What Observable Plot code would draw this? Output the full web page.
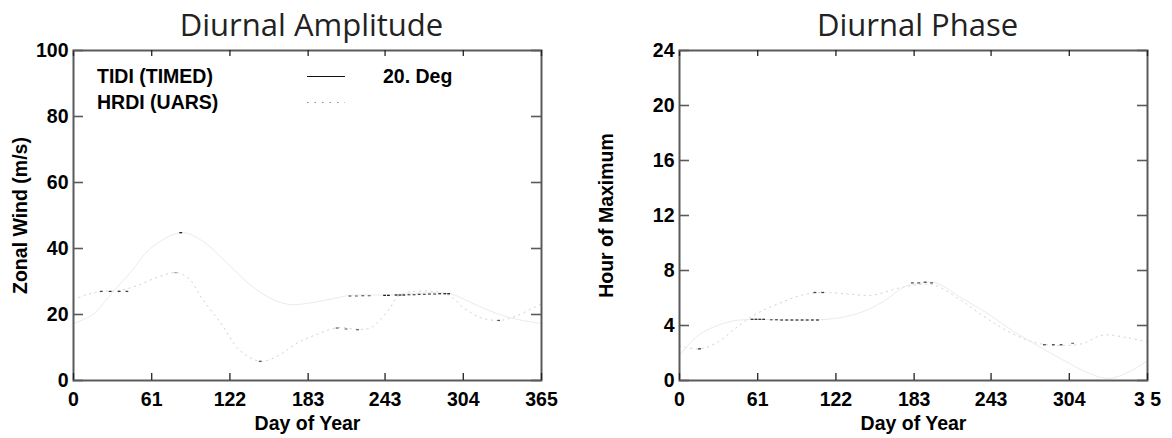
<!DOCTYPE html>
<html>
<head>
<meta charset="utf-8">
<script src="https://cdn.jsdelivr.net/npm/d3@7"></script>
<script src="https://cdn.jsdelivr.net/npm/@observablehq/plot@0.6"></script>
<style>
  html, body { margin: 0; padding: 0; background: #fff; }
  #wrap { position: relative; width: 1172px; height: 438px; overflow: hidden; }
  .panel { position: absolute; top: 0; width: 586px; height: 438px; }
  #legend { position: absolute; left: 0; top: 0; width: 586px; height: 438px; pointer-events: none; }
</style>
</head>
<body>
<div id="wrap">
  <div class="panel" id="left" style="left:0"></div>
  <div class="panel" id="right" style="left:586px"></div>
  <svg id="legend" width="586" height="438">
    <line x1="307" x2="345" y1="76.5" y2="76.5" stroke="#111" stroke-width="1"/>
    <line x1="307" x2="345" y1="102.5" y2="102.5" stroke="#888" stroke-width="1.2" stroke-dasharray="1.5 6"/>
  </svg>
</div>
<script>
// ---------- shared ----------
const dayTicks = [0, 61, 122, 183, 243, 304, 365];
const dayTickLabelsLeft = ["0", "61", "122", "183", "243", "304", "365"];
const dayTickLabelsRight = ["0", "61", "122", "183", "243", "304", "3 5"];
const ampTicks = [0, 20, 40, 60, 80, 100];
const phaseTicks = [0, 4, 8, 12, 16, 20, 24];

// ---------- amplitude: fitted curves ----------
const ampTidiDays = [0, 15, 31, 45, 60, 84, 100, 120, 140, 156, 170, 200, 216, 243, 293, 310, 330, 350, 365];
const ampTidiVals = [17.3, 20, 27, 33, 40, 44.8, 42.4, 35.5, 28.3, 24.5, 23, 24.6, 25.8, 25.9, 26.3, 23.6, 20.3, 18.2, 17.3];
const ampHrdiDays = [0, 10, 22, 36, 50, 65, 80, 90, 100, 115, 130, 146, 160, 175, 190, 206, 222, 232, 245, 255, 290, 305, 318, 332, 345, 365];
const ampHrdiVals = [24.5, 26, 27, 27.3, 28.8, 31.2, 32.7, 30.9, 25, 17.3, 9, 5.8, 7.6, 11.5, 14, 16, 15.5, 16, 21, 26, 26.3, 21.8, 19, 18.2, 19.5, 23.3];

// ---------- amplitude: measured points (short dashes) ----------
const ampPtDays = [22, 29, 36, 42, 80, 84, 146, 206, 213, 222, 216, 221, 226, 231, 332,
                   243, 246, 252, 255, 258, 262, 266, 270, 274, 278, 282, 286, 290, 293];
const ampPtVals = [27, 27, 27, 27, 32.7, 44.8, 5.8, 15.9, 15.6, 15.4, 25.6, 25.6, 25.7, 25.7, 18.2,
                   25.8, 25.8, 25.9, 25.9, 25.9, 26, 26, 26.1, 26.1, 26.2, 26.2, 26.3, 26.3, 26.3];
const ampPtShade = ["#444", "#333", "#333", "#444", "#aaa", "#222", "#555", "#666", "#777", "#666", "#666", "#777", "#666", "#777", "#555",
                    "#222", "#222", "#222", "#222", "#222", "#555", "#555", "#444", "#555", "#444", "#555", "#333", "#222", "#222"];

// ---------- phase: fitted curves ----------
const phTidiDays = [0, 10, 20, 40, 60, 80, 100, 120, 140, 160, 175, 190, 200, 220, 240, 260, 280, 300, 320, 335, 350, 365];
const phTidiVals = [1.8, 2.9, 3.6, 4.3, 4.45, 4.4, 4.4, 4.5, 4.9, 5.8, 6.8, 7.1, 7.1, 6, 4.9, 3.6, 2.5, 1.45, 0.5, 0.15, 0.6, 1.45];
const phHrdiDays = [0, 16, 30, 45, 61, 80, 95, 110, 130, 150, 170, 190, 200, 220, 240, 260, 280, 300, 315, 330, 350, 365];
const phHrdiVals = [2.5, 2.3, 2.8, 3.9, 4.9, 5.7, 6.2, 6.4, 6.3, 6.2, 6.7, 7.0, 6.9, 5.8, 4.5, 3.4, 2.7, 2.55, 2.7, 3.3, 3.1, 2.8];

// ---------- phase: measured points ----------
const phPtDays = [16, 57, 60, 63, 66, 72, 76, 80, 84, 88, 92, 96, 100, 104, 108, 106, 112, 182, 187, 192, 197, 285, 292, 298, 307];
const phPtVals = [2.3, 4.45, 4.45, 4.45, 4.45, 4.42, 4.42, 4.4, 4.4, 4.4, 4.4, 4.4, 4.4, 4.4, 4.4, 6.4, 6.4, 7.1, 7.1, 7.15, 7.1, 2.6, 2.6, 2.6, 2.7];
const phPtShade = ["#333", "#333", "#333", "#333", "#333", "#666", "#555", "#444", "#333", "#333", "#333", "#333", "#333", "#333", "#333", "#444", "#444", "#555", "#555", "#444", "#555", "#444", "#444", "#444", "#777"];

const toRows = (xs, ys, cs) => xs.map((x, i) => ({day: x, v: ys[i], c: cs ? cs[i] : null}));

const W = 586, H = 438, mT = 50, mB = 58;
const font = {fontFamily: "'Liberation Sans', Arial, Helvetica, sans-serif", fontSize: "19.5px", fontWeight: "bold", color: "#000", background: "#fff", overflow: "visible"};

function panel({mL, mR, yDomain, yTicks, xLabels, tidi, hrdi, pts, title, ylab}) {
  const innerW = W - mL - mR, innerH = H - mT - mB;
  const frameCol = "#5a5a5a";
  return Plot.plot({
    width: W, height: H,
    marginLeft: mL, marginRight: mR, marginTop: mT, marginBottom: mB,
    style: font,
    x: {domain: [0, 365]},
    y: {domain: yDomain},
    marks: [
      // fitted curves
      Plot.line(hrdi, {x: "day", y: "v", curve: "catmull-rom", stroke: "#cfcfcf", strokeWidth: 1, strokeDasharray: "1.2 4.5"}),
      Plot.line(tidi, {x: "day", y: "v", curve: "catmull-rom", stroke: "#ebebeb", strokeWidth: 1}),
      // measured points as short dashes
      Plot.ruleY(pts, {y: "v", x1: d => d.day - 1.1, x2: d => d.day + 1.1, stroke: "c", strokeWidth: 1.3}),
      // frame
      Plot.frame({stroke: frameCol, strokeWidth: 2}),
      // inward ticks
      Plot.tickX(dayTicks, {x: d => d, insetTop: innerH - 7, stroke: "#222", strokeWidth: 1.3}),
      Plot.tickX(dayTicks, {x: d => d, insetBottom: innerH - 6, stroke: "#222", strokeWidth: 1.3}),
      Plot.tickY(yTicks, {y: d => d, insetRight: innerW - 10, stroke: frameCol, strokeWidth: 1.6}),
      Plot.tickY(yTicks, {y: d => d, insetLeft: innerW - 10, stroke: frameCol, strokeWidth: 1.6}),
      // tick labels
      Plot.axisX({ticks: dayTicks, tickSize: 0, tickPadding: 12, tickFormat: (d) => xLabels[dayTicks.indexOf(d)], label: null}),
      Plot.axisY({ticks: yTicks, tickSize: 0, tickPadding: 5, label: null}),
      // axis titles
      Plot.text(["Day of Year"], {frameAnchor: "bottom", dy: 49, lineAnchor: "bottom", fontSize: 19.5, fontWeight: "bold"}),
      Plot.text([ylab], {frameAnchor: "left", dx: -(mL - 26), rotate: -90, textAnchor: "middle", lineAnchor: "bottom", fontSize: 19.5, fontWeight: "bold"}),
      // panel title
      Plot.text([title], {frameAnchor: "top", dy: -15, dx: 4, lineAnchor: "bottom", fontSize: 31, fontWeight: 500, fontFamily: "'Open Sans', 'DejaVu Sans', sans-serif", fill: "#222"})
    ]
  });
}

const left = panel({
  mL: 73, mR: 45, yDomain: [0, 100], yTicks: ampTicks, xLabels: dayTickLabelsLeft,
  tidi: toRows(ampTidiDays, ampTidiVals), hrdi: toRows(ampHrdiDays, ampHrdiVals),
  pts: toRows(ampPtDays, ampPtVals, ampPtShade),
  title: "Diurnal Amplitude", ylab: "Zonal Wind (m/s)"
});
const legendLabels = ["TIDI (TIMED)", "HRDI (UARS)"];
const latLabel = "20. Deg";
document.getElementById("left").append(left);

const right = panel({
  mL: 93, mR: 25, yDomain: [0, 24], yTicks: phaseTicks, xLabels: dayTickLabelsRight,
  tidi: toRows(phTidiDays, phTidiVals), hrdi: toRows(phHrdiDays, phHrdiVals),
  pts: toRows(phPtDays, phPtVals, phPtShade),
  title: "Diurnal Phase", ylab: "Hour of Maximum"
});
document.getElementById("right").append(right);

// legend text (real text) in the overlay svg
const lg = d3.select("#legend");
lg.selectAll("text.lab").data(legendLabels).join("text")
  .attr("class", "lab")
  .attr("x", 97).attr("y", (d, i) => 83 + i * 26)
  .style("font-family", "'Liberation Sans', Arial, sans-serif")
  .style("font-size", "19.5px").style("font-weight", "bold")
  .text(d => d);
lg.append("text").attr("x", 383).attr("y", 83)
  .style("font-family", "'Liberation Sans', Arial, sans-serif")
  .style("font-size", "19.5px").style("font-weight", "bold")
  .text(latLabel);
</script>
</body>
</html>
